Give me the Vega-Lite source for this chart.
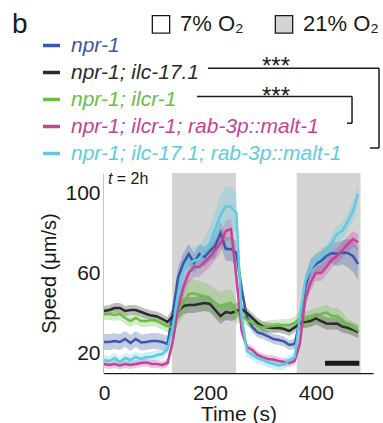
{
"$schema": "https://vega.github.io/schema/vega-lite/v6.json",
"width": 269, "height": 200,
"autosize": {"type": "none"},
"padding": {"left": 104, "top": 173, "right": 10, "bottom": 50},
"background": "white",
"config": {"view": {"stroke": null}, "font": "Liberation Sans", "text": {"font": "Liberation Sans", "color": "#1a1a1a"}},
"datasets": {
"o2": [
{"a": 0, "b": 128.4, "o": "7% O₂"},
{"a": 128.4, "b": 249.3, "o": "21% O₂"},
{"a": 249.3, "b": 364, "o": "7% O₂"},
{"a": 364, "b": 484.8, "o": "21% O₂"},
{"a": 484.8, "b": 508, "o": "7% O₂"}
],
"speed": [
{"s":"npr-1","t":0,"v":25.5,"e":4},{"s":"npr-1","t":10,"v":25.5,"e":4},{"s":"npr-1","t":20,"v":26,"e":4},{"s":"npr-1","t":30,"v":25.5,"e":4},{"s":"npr-1","t":40,"v":27,"e":4},{"s":"npr-1","t":50,"v":25,"e":4},{"s":"npr-1","t":60,"v":27,"e":4},{"s":"npr-1","t":70,"v":25.3,"e":4},{"s":"npr-1","t":80,"v":25.5,"e":4},{"s":"npr-1","t":90,"v":26,"e":4},{"s":"npr-1","t":100,"v":26,"e":4},{"s":"npr-1","t":110,"v":25.5,"e":4},{"s":"npr-1","t":120,"v":24.5,"e":4},
{"s":"npr-1","t":130,"v":40,"e":5},{"s":"npr-1","t":140,"v":58,"e":5},{"s":"npr-1","t":150,"v":65,"e":5},{"s":"npr-1","t":160,"v":69.5,"e":5},{"s":"npr-1","t":170,"v":65,"e":5},{"s":"npr-1","t":180,"v":69.5,"e":5},{"s":"npr-1","t":190,"v":68,"e":5},{"s":"npr-1","t":200,"v":71,"e":5},{"s":"npr-1","t":210,"v":73.5,"e":6},{"s":"npr-1","t":220,"v":80,"e":6},{"s":"npr-1","t":230,"v":72,"e":6},{"s":"npr-1","t":240,"v":72,"e":6},{"s":"npr-1","t":250,"v":70,"e":6},
{"s":"npr-1","t":260,"v":52,"e":4},{"s":"npr-1","t":270,"v":37.5,"e":3},{"s":"npr-1","t":280,"v":33,"e":2.5},{"s":"npr-1","t":290,"v":30.3,"e":2.5},{"s":"npr-1","t":300,"v":29.5,"e":2.5},{"s":"npr-1","t":310,"v":28.3,"e":2.5},{"s":"npr-1","t":320,"v":27,"e":2.5},{"s":"npr-1","t":330,"v":26.5,"e":2.5},{"s":"npr-1","t":340,"v":25.8,"e":2.5},{"s":"npr-1","t":350,"v":24,"e":2.5},{"s":"npr-1","t":360,"v":24.5,"e":2.5},
{"s":"npr-1","t":370,"v":36,"e":4},{"s":"npr-1","t":380,"v":53,"e":5},{"s":"npr-1","t":390,"v":62,"e":5},{"s":"npr-1","t":400,"v":64.5,"e":5},{"s":"npr-1","t":410,"v":66,"e":5},{"s":"npr-1","t":420,"v":68.5,"e":5},{"s":"npr-1","t":430,"v":70,"e":5},{"s":"npr-1","t":440,"v":69.5,"e":6},{"s":"npr-1","t":450,"v":70.2,"e":6},{"s":"npr-1","t":460,"v":70,"e":7},{"s":"npr-1","t":470,"v":68.5,"e":8},{"s":"npr-1","t":480,"v":64.5,"e":8},

{"s":"npr-1; ilc-17.1","t":0,"v":41,"e":2.5},{"s":"npr-1; ilc-17.1","t":10,"v":41.5,"e":2.5},{"s":"npr-1; ilc-17.1","t":20,"v":42.5,"e":2.5},{"s":"npr-1; ilc-17.1","t":30,"v":42.5,"e":2.5},{"s":"npr-1; ilc-17.1","t":40,"v":41,"e":2.5},{"s":"npr-1; ilc-17.1","t":50,"v":41.5,"e":2.5},{"s":"npr-1; ilc-17.1","t":60,"v":41.5,"e":2.5},{"s":"npr-1; ilc-17.1","t":70,"v":40.5,"e":2.5},{"s":"npr-1; ilc-17.1","t":80,"v":39.5,"e":2.5},{"s":"npr-1; ilc-17.1","t":90,"v":38.7,"e":2.5},{"s":"npr-1; ilc-17.1","t":100,"v":38.3,"e":2.5},{"s":"npr-1; ilc-17.1","t":110,"v":37,"e":2.5},{"s":"npr-1; ilc-17.1","t":120,"v":35.5,"e":2.5},
{"s":"npr-1; ilc-17.1","t":130,"v":38.5,"e":4},{"s":"npr-1; ilc-17.1","t":140,"v":41,"e":4},{"s":"npr-1; ilc-17.1","t":150,"v":43.5,"e":4},{"s":"npr-1; ilc-17.1","t":160,"v":44,"e":4},{"s":"npr-1; ilc-17.1","t":170,"v":44,"e":4},{"s":"npr-1; ilc-17.1","t":180,"v":44.5,"e":4},{"s":"npr-1; ilc-17.1","t":190,"v":45,"e":4},{"s":"npr-1; ilc-17.1","t":200,"v":44.5,"e":4},{"s":"npr-1; ilc-17.1","t":210,"v":41.5,"e":4},{"s":"npr-1; ilc-17.1","t":220,"v":38.5,"e":4},{"s":"npr-1; ilc-17.1","t":230,"v":40.5,"e":4},{"s":"npr-1; ilc-17.1","t":240,"v":40,"e":4},{"s":"npr-1; ilc-17.1","t":250,"v":41,"e":4},
{"s":"npr-1; ilc-17.1","t":260,"v":42,"e":2.5},{"s":"npr-1; ilc-17.1","t":270,"v":40,"e":2.5},{"s":"npr-1; ilc-17.1","t":280,"v":37.5,"e":2.5},{"s":"npr-1; ilc-17.1","t":290,"v":35,"e":2.5},{"s":"npr-1; ilc-17.1","t":300,"v":33.2,"e":2.5},{"s":"npr-1; ilc-17.1","t":310,"v":32.7,"e":2.5},{"s":"npr-1; ilc-17.1","t":320,"v":32.5,"e":2.5},{"s":"npr-1; ilc-17.1","t":330,"v":32.6,"e":2.5},{"s":"npr-1; ilc-17.1","t":340,"v":32,"e":2.5},{"s":"npr-1; ilc-17.1","t":350,"v":31,"e":2.5},{"s":"npr-1; ilc-17.1","t":360,"v":32.8,"e":2.5},
{"s":"npr-1; ilc-17.1","t":370,"v":34.8,"e":3},{"s":"npr-1; ilc-17.1","t":380,"v":35.6,"e":3},{"s":"npr-1; ilc-17.1","t":390,"v":36,"e":3},{"s":"npr-1; ilc-17.1","t":400,"v":37.3,"e":3},{"s":"npr-1; ilc-17.1","t":410,"v":36,"e":3},{"s":"npr-1; ilc-17.1","t":420,"v":34.8,"e":3},{"s":"npr-1; ilc-17.1","t":430,"v":34.6,"e":3},{"s":"npr-1; ilc-17.1","t":440,"v":34.7,"e":3},{"s":"npr-1; ilc-17.1","t":450,"v":33.2,"e":3},{"s":"npr-1; ilc-17.1","t":460,"v":32.6,"e":3},{"s":"npr-1; ilc-17.1","t":470,"v":31.7,"e":3},{"s":"npr-1; ilc-17.1","t":480,"v":30.4,"e":3},

{"s":"npr-1; ilcr-1","t":0,"v":39.5,"e":3},{"s":"npr-1; ilcr-1","t":10,"v":39.5,"e":3},{"s":"npr-1; ilcr-1","t":20,"v":39,"e":3},{"s":"npr-1; ilcr-1","t":30,"v":39.5,"e":3},{"s":"npr-1; ilcr-1","t":40,"v":37.5,"e":3},{"s":"npr-1; ilcr-1","t":50,"v":36,"e":3},{"s":"npr-1; ilcr-1","t":60,"v":37.5,"e":3},{"s":"npr-1; ilcr-1","t":70,"v":36,"e":3},{"s":"npr-1; ilcr-1","t":80,"v":36,"e":3},{"s":"npr-1; ilcr-1","t":90,"v":36.5,"e":3},{"s":"npr-1; ilcr-1","t":100,"v":36,"e":3},{"s":"npr-1; ilcr-1","t":110,"v":34.5,"e":3},{"s":"npr-1; ilcr-1","t":120,"v":33.3,"e":3},
{"s":"npr-1; ilcr-1","t":130,"v":33,"e":5},{"s":"npr-1; ilcr-1","t":140,"v":41,"e":7},{"s":"npr-1; ilcr-1","t":150,"v":45.5,"e":7},{"s":"npr-1; ilcr-1","t":160,"v":49.5,"e":7},{"s":"npr-1; ilcr-1","t":170,"v":49.8,"e":7},{"s":"npr-1; ilcr-1","t":180,"v":49,"e":7},{"s":"npr-1; ilcr-1","t":190,"v":48.3,"e":7},{"s":"npr-1; ilcr-1","t":200,"v":47,"e":7},{"s":"npr-1; ilcr-1","t":210,"v":45,"e":7},{"s":"npr-1; ilcr-1","t":220,"v":43.5,"e":7},{"s":"npr-1; ilcr-1","t":230,"v":44.5,"e":7},{"s":"npr-1; ilcr-1","t":240,"v":45,"e":7},{"s":"npr-1; ilcr-1","t":250,"v":40.5,"e":6},
{"s":"npr-1; ilcr-1","t":260,"v":38.5,"e":3},{"s":"npr-1; ilcr-1","t":270,"v":36.5,"e":3},{"s":"npr-1; ilcr-1","t":280,"v":35,"e":3},{"s":"npr-1; ilcr-1","t":290,"v":33.5,"e":3},{"s":"npr-1; ilcr-1","t":300,"v":32.8,"e":3},{"s":"npr-1; ilcr-1","t":310,"v":33.3,"e":3},{"s":"npr-1; ilcr-1","t":320,"v":33.5,"e":3},{"s":"npr-1; ilcr-1","t":330,"v":33.8,"e":3},{"s":"npr-1; ilcr-1","t":340,"v":34,"e":3},{"s":"npr-1; ilcr-1","t":350,"v":34,"e":3},{"s":"npr-1; ilcr-1","t":360,"v":35,"e":3},
{"s":"npr-1; ilcr-1","t":370,"v":37.5,"e":4},{"s":"npr-1; ilcr-1","t":380,"v":36.5,"e":4},{"s":"npr-1; ilcr-1","t":390,"v":37.5,"e":4},{"s":"npr-1; ilcr-1","t":400,"v":38.7,"e":4},{"s":"npr-1; ilcr-1","t":410,"v":39.5,"e":4},{"s":"npr-1; ilcr-1","t":420,"v":40.3,"e":4},{"s":"npr-1; ilcr-1","t":430,"v":38.5,"e":4},{"s":"npr-1; ilcr-1","t":440,"v":38.5,"e":4},{"s":"npr-1; ilcr-1","t":450,"v":36.5,"e":4},{"s":"npr-1; ilcr-1","t":460,"v":34,"e":3},{"s":"npr-1; ilcr-1","t":470,"v":32.8,"e":3},{"s":"npr-1; ilcr-1","t":480,"v":31.2,"e":3},

{"s":"npr-1; ilcr-1; rab-3p::malt-1","t":0,"v":14.5,"e":2},{"s":"npr-1; ilcr-1; rab-3p::malt-1","t":10,"v":14,"e":2},{"s":"npr-1; ilcr-1; rab-3p::malt-1","t":20,"v":14.5,"e":2},{"s":"npr-1; ilcr-1; rab-3p::malt-1","t":30,"v":13.8,"e":2},{"s":"npr-1; ilcr-1; rab-3p::malt-1","t":40,"v":14.5,"e":2},{"s":"npr-1; ilcr-1; rab-3p::malt-1","t":50,"v":14,"e":2},{"s":"npr-1; ilcr-1; rab-3p::malt-1","t":60,"v":14.5,"e":2},{"s":"npr-1; ilcr-1; rab-3p::malt-1","t":70,"v":15,"e":2},{"s":"npr-1; ilcr-1; rab-3p::malt-1","t":80,"v":15.3,"e":2},{"s":"npr-1; ilcr-1; rab-3p::malt-1","t":90,"v":14.5,"e":2},{"s":"npr-1; ilcr-1; rab-3p::malt-1","t":100,"v":14.5,"e":2},{"s":"npr-1; ilcr-1; rab-3p::malt-1","t":110,"v":14,"e":2},{"s":"npr-1; ilcr-1; rab-3p::malt-1","t":120,"v":15,"e":2},
{"s":"npr-1; ilcr-1; rab-3p::malt-1","t":130,"v":26,"e":4},{"s":"npr-1; ilcr-1; rab-3p::malt-1","t":140,"v":42.8,"e":5},{"s":"npr-1; ilcr-1; rab-3p::malt-1","t":150,"v":53,"e":5},{"s":"npr-1; ilcr-1; rab-3p::malt-1","t":160,"v":60,"e":5},{"s":"npr-1; ilcr-1; rab-3p::malt-1","t":170,"v":63,"e":5},{"s":"npr-1; ilcr-1; rab-3p::malt-1","t":180,"v":63,"e":5},{"s":"npr-1; ilcr-1; rab-3p::malt-1","t":190,"v":65.5,"e":5},{"s":"npr-1; ilcr-1; rab-3p::malt-1","t":200,"v":68,"e":5},{"s":"npr-1; ilcr-1; rab-3p::malt-1","t":210,"v":71.5,"e":5},{"s":"npr-1; ilcr-1; rab-3p::malt-1","t":220,"v":75,"e":5},{"s":"npr-1; ilcr-1; rab-3p::malt-1","t":230,"v":81,"e":5},{"s":"npr-1; ilcr-1; rab-3p::malt-1","t":240,"v":82,"e":5},{"s":"npr-1; ilcr-1; rab-3p::malt-1","t":250,"v":58,"e":5},
{"s":"npr-1; ilcr-1; rab-3p::malt-1","t":260,"v":31,"e":3},{"s":"npr-1; ilcr-1; rab-3p::malt-1","t":270,"v":23,"e":2},{"s":"npr-1; ilcr-1; rab-3p::malt-1","t":280,"v":21.5,"e":2},{"s":"npr-1; ilcr-1; rab-3p::malt-1","t":290,"v":19,"e":2},{"s":"npr-1; ilcr-1; rab-3p::malt-1","t":300,"v":17.8,"e":2},{"s":"npr-1; ilcr-1; rab-3p::malt-1","t":310,"v":17,"e":2},{"s":"npr-1; ilcr-1; rab-3p::malt-1","t":320,"v":16.7,"e":2},{"s":"npr-1; ilcr-1; rab-3p::malt-1","t":330,"v":16,"e":2},{"s":"npr-1; ilcr-1; rab-3p::malt-1","t":340,"v":15.5,"e":2},{"s":"npr-1; ilcr-1; rab-3p::malt-1","t":350,"v":15,"e":2},{"s":"npr-1; ilcr-1; rab-3p::malt-1","t":360,"v":16,"e":2},
{"s":"npr-1; ilcr-1; rab-3p::malt-1","t":370,"v":25,"e":3},{"s":"npr-1; ilcr-1; rab-3p::malt-1","t":380,"v":47,"e":4},{"s":"npr-1; ilcr-1; rab-3p::malt-1","t":390,"v":55,"e":4},{"s":"npr-1; ilcr-1; rab-3p::malt-1","t":400,"v":60,"e":4},{"s":"npr-1; ilcr-1; rab-3p::malt-1","t":410,"v":60,"e":4},{"s":"npr-1; ilcr-1; rab-3p::malt-1","t":420,"v":63,"e":4},{"s":"npr-1; ilcr-1; rab-3p::malt-1","t":430,"v":66.5,"e":4},{"s":"npr-1; ilcr-1; rab-3p::malt-1","t":440,"v":68.5,"e":4},{"s":"npr-1; ilcr-1; rab-3p::malt-1","t":450,"v":71.5,"e":4},{"s":"npr-1; ilcr-1; rab-3p::malt-1","t":460,"v":74.3,"e":4},{"s":"npr-1; ilcr-1; rab-3p::malt-1","t":470,"v":77,"e":4},{"s":"npr-1; ilcr-1; rab-3p::malt-1","t":480,"v":75.3,"e":4},

{"s":"npr-1; ilc-17.1; rab-3p::malt-1","t":0,"v":16.5,"e":2.5},{"s":"npr-1; ilc-17.1; rab-3p::malt-1","t":10,"v":16,"e":2.5},{"s":"npr-1; ilc-17.1; rab-3p::malt-1","t":20,"v":17.5,"e":2.5},{"s":"npr-1; ilc-17.1; rab-3p::malt-1","t":30,"v":15.5,"e":2.5},{"s":"npr-1; ilc-17.1; rab-3p::malt-1","t":40,"v":17.5,"e":2.5},{"s":"npr-1; ilc-17.1; rab-3p::malt-1","t":50,"v":16.5,"e":2.5},{"s":"npr-1; ilc-17.1; rab-3p::malt-1","t":60,"v":18,"e":2.5},{"s":"npr-1; ilc-17.1; rab-3p::malt-1","t":70,"v":17,"e":2.5},{"s":"npr-1; ilc-17.1; rab-3p::malt-1","t":80,"v":18,"e":2.5},{"s":"npr-1; ilc-17.1; rab-3p::malt-1","t":90,"v":18,"e":2.5},{"s":"npr-1; ilc-17.1; rab-3p::malt-1","t":100,"v":19,"e":2.5},{"s":"npr-1; ilc-17.1; rab-3p::malt-1","t":110,"v":19.5,"e":2.5},{"s":"npr-1; ilc-17.1; rab-3p::malt-1","t":120,"v":22,"e":2.5},
{"s":"npr-1; ilc-17.1; rab-3p::malt-1","t":130,"v":33,"e":4},{"s":"npr-1; ilc-17.1; rab-3p::malt-1","t":140,"v":50,"e":6},{"s":"npr-1; ilc-17.1; rab-3p::malt-1","t":150,"v":61,"e":7},{"s":"npr-1; ilc-17.1; rab-3p::malt-1","t":160,"v":65,"e":7},{"s":"npr-1; ilc-17.1; rab-3p::malt-1","t":170,"v":66,"e":7},{"s":"npr-1; ilc-17.1; rab-3p::malt-1","t":180,"v":67,"e":7},{"s":"npr-1; ilc-17.1; rab-3p::malt-1","t":190,"v":71,"e":7},{"s":"npr-1; ilc-17.1; rab-3p::malt-1","t":200,"v":75,"e":8},{"s":"npr-1; ilc-17.1; rab-3p::malt-1","t":210,"v":82,"e":9},{"s":"npr-1; ilc-17.1; rab-3p::malt-1","t":220,"v":89,"e":10},{"s":"npr-1; ilc-17.1; rab-3p::malt-1","t":230,"v":93.5,"e":10},{"s":"npr-1; ilc-17.1; rab-3p::malt-1","t":240,"v":93,"e":10},{"s":"npr-1; ilc-17.1; rab-3p::malt-1","t":250,"v":90,"e":10},
{"s":"npr-1; ilc-17.1; rab-3p::malt-1","t":260,"v":38,"e":4},{"s":"npr-1; ilc-17.1; rab-3p::malt-1","t":270,"v":21,"e":3},{"s":"npr-1; ilc-17.1; rab-3p::malt-1","t":280,"v":19,"e":2.5},{"s":"npr-1; ilc-17.1; rab-3p::malt-1","t":290,"v":17.3,"e":2.5},{"s":"npr-1; ilc-17.1; rab-3p::malt-1","t":300,"v":16.5,"e":2.5},{"s":"npr-1; ilc-17.1; rab-3p::malt-1","t":310,"v":15.2,"e":2.5},{"s":"npr-1; ilc-17.1; rab-3p::malt-1","t":320,"v":14.5,"e":2.5},{"s":"npr-1; ilc-17.1; rab-3p::malt-1","t":330,"v":13.8,"e":2.5},{"s":"npr-1; ilc-17.1; rab-3p::malt-1","t":340,"v":14.2,"e":2.5},{"s":"npr-1; ilc-17.1; rab-3p::malt-1","t":350,"v":16.5,"e":2.5},{"s":"npr-1; ilc-17.1; rab-3p::malt-1","t":360,"v":17.8,"e":2.5},
{"s":"npr-1; ilc-17.1; rab-3p::malt-1","t":370,"v":38,"e":4},{"s":"npr-1; ilc-17.1; rab-3p::malt-1","t":380,"v":56,"e":4},{"s":"npr-1; ilc-17.1; rab-3p::malt-1","t":390,"v":62,"e":4},{"s":"npr-1; ilc-17.1; rab-3p::malt-1","t":400,"v":66,"e":4},{"s":"npr-1; ilc-17.1; rab-3p::malt-1","t":410,"v":68.5,"e":4},{"s":"npr-1; ilc-17.1; rab-3p::malt-1","t":420,"v":70,"e":4},{"s":"npr-1; ilc-17.1; rab-3p::malt-1","t":430,"v":75,"e":4},{"s":"npr-1; ilc-17.1; rab-3p::malt-1","t":440,"v":79.5,"e":4},{"s":"npr-1; ilc-17.1; rab-3p::malt-1","t":450,"v":81,"e":4},{"s":"npr-1; ilc-17.1; rab-3p::malt-1","t":460,"v":85.5,"e":4},{"s":"npr-1; ilc-17.1; rab-3p::malt-1","t":470,"v":91,"e":5},{"s":"npr-1; ilc-17.1; rab-3p::malt-1","t":480,"v":99.5,"e":5}
]
},
"layer": [
{"data": {"name": "o2"}, "mark": {"type": "rect"},
 "encoding": {
  "x": {"field": "a", "type": "quantitative", "title": "Time (s)", "scale": {"domain": [0, 508], "nice": false, "zero": false},
   "axis": {"title": "Time (s)", "values": [0,50,100,150,200,250,300,350,400,450,500], "labelExpr": "datum.value % 200 === 0 ? datum.label : ''", "grid": false, "tickSize": -5, "tickWidth": 1.2, "tickColor": "#1a1a1a", "domainColor": "#1a1a1a", "domainWidth": 1.5, "labelFontSize": 21, "labelColor": "#1a1a1a", "labelPadding": 14, "labelFlush": false, "labelOverlap": false, "titleFontSize": 21, "titleFontWeight": "normal", "titleColor": "#1a1a1a", "titlePadding": 0}},
  "x2": {"field": "b"},
  "y": {"datum": 10, "type": "quantitative", "title": "Speed (μm/s)", "scale": {"domain": [10, 110], "nice": false, "zero": false},
   "axis": {"title": "Speed (μm/s)", "values": [20,30,40,50,60,70,80,90,100], "labelExpr": "datum.value % 40 === 20 ? datum.label : ''", "grid": false, "tickSize": -5, "tickWidth": 1.2, "tickColor": "#1a1a1a", "domainColor": "#1a1a1a", "domainWidth": 1.5, "labelFontSize": 21, "labelColor": "#1a1a1a", "labelPadding": 9, "labelOverlap": false, "labelFlush": false, "titleFontSize": 20, "titleFontWeight": "normal", "titleColor": "#1a1a1a", "titlePadding": 5}},
  "y2": {"datum": 110},
  "fill": {"field": "o", "type": "nominal", "scale": {"domain": ["7% O₂", "21% O₂"], "range": ["#ffffff", "#d4d4d4"]},
   "legend": {"orient": "none", "legendX": 46, "legendY": -160, "direction": "horizontal", "title": null, "symbolType": "square", "symbolSize": 300, "symbolStrokeColor": "#1a1a1a", "symbolStrokeWidth": 1.3, "labelFont": "Liberation Sans, DejaVu Sans", "labelFontSize": 22, "labelColor": "#1a1a1a", "labelOffset": 8, "labelLimit": 200, "columnPadding": 28, "padding": 0}}
 }},
{"data": {"name": "speed"}, "mark": {"type": "errorband", "opacity": 0.3},
 "encoding": {
  "x": {"field": "t", "type": "quantitative", "title": "Time (s)"},
  "y": {"field": "v", "type": "quantitative", "title": "Speed (μm/s)"},
  "yError": {"field": "e"},
  "color": {"field": "s", "type": "nominal", "scale": {"domain": ["npr-1", "npr-1; ilc-17.1", "npr-1; ilcr-1", "npr-1; ilcr-1; rab-3p::malt-1", "npr-1; ilc-17.1; rab-3p::malt-1"], "range": ["#3b57a7", "#2b2b2b", "#6abd45", "#c1449a", "#5fcbe0"]}}
 }},
{"data": {"name": "speed"}, "mark": {"type": "line", "strokeWidth": 2.5},
 "encoding": {
  "x": {"field": "t", "type": "quantitative", "title": "Time (s)"},
  "y": {"field": "v", "type": "quantitative", "title": "Speed (μm/s)"},
  "color": {"field": "s", "type": "nominal", "scale": {"domain": ["npr-1", "npr-1; ilc-17.1", "npr-1; ilcr-1", "npr-1; ilcr-1; rab-3p::malt-1", "npr-1; ilc-17.1; rab-3p::malt-1"], "range": ["#3b57a7", "#2b2b2b", "#6abd45", "#c1449a", "#5fcbe0"]},
   "legend": {"orient": "none", "legendX": -63, "legendY": -138, "title": null, "symbolType": "stroke", "symbolSize": 289, "symbolStrokeWidth": 3.5, "labelFontSize": 21, "labelFontStyle": "italic", "labelLimit": 400, "labelOffset": 9, "rowPadding": 5, "padding": 0,
    "encode": {"labels": {"update": {"fill": {"scale": "color", "field": "value"}}}, "symbols": {"update": {"opacity": {"value": 1}, "strokeWidth": {"value": 3.5}, "stroke": {"scale": "color", "field": "value"}}}}}}
 }},
{"data": {"values": [{}]}, "mark": {"type": "rule", "strokeWidth": 5, "color": "#1a1a1a", "clip": false},
 "encoding": {"x": {"datum": 417.4, "type": "quantitative"}, "x2": {"datum": 482.2}, "y": {"datum": 14.85, "type": "quantitative"}}},
{"data": {"values": [{}]}, "mark": {"type": "rule", "strokeWidth": 1.5, "color": "#1a1a1a", "clip": false},
 "encoding": {"x": {"datum": 196.4, "type": "quantitative"}, "x2": {"datum": 519.4}, "y": {"datum": 162.4, "type": "quantitative"}}},
{"data": {"values": [{}]}, "mark": {"type": "rule", "strokeWidth": 1.5, "color": "#1a1a1a", "clip": false},
 "encoding": {"x": {"datum": 519.4, "type": "quantitative"}, "y": {"datum": 162.4, "type": "quantitative"}, "y2": {"datum": 122.5}}},
{"data": {"values": [{}]}, "mark": {"type": "rule", "strokeWidth": 1.5, "color": "#1a1a1a", "clip": false},
 "encoding": {"x": {"datum": 502.4, "type": "quantitative"}, "x2": {"datum": 519.4}, "y": {"datum": 122.5, "type": "quantitative"}}},
{"data": {"values": [{}]}, "mark": {"type": "rule", "strokeWidth": 1.5, "color": "#1a1a1a", "clip": false},
 "encoding": {"x": {"datum": 175.6, "type": "quantitative"}, "x2": {"datum": 468.4}, "y": {"datum": 148.2, "type": "quantitative"}}},
{"data": {"values": [{}]}, "mark": {"type": "rule", "strokeWidth": 1.5, "color": "#1a1a1a", "clip": false},
 "encoding": {"x": {"datum": 468.4, "type": "quantitative"}, "y": {"datum": 148.2, "type": "quantitative"}, "y2": {"datum": 134.9}}},
{"data": {"values": [{}]}, "mark": {"type": "rule", "strokeWidth": 1.5, "color": "#1a1a1a", "clip": false},
 "encoding": {"x": {"datum": 458.9, "type": "quantitative"}, "x2": {"datum": 468.4}, "y": {"datum": 134.9, "type": "quantitative"}}},
{"data": {"values": [{}]}, "mark": {"type": "text", "text": "***", "fontSize": 24, "align": "center", "baseline": "alphabetic", "clip": false},
 "encoding": {"x": {"datum": 324.8, "type": "quantitative"}, "y": {"datum": 159.5, "type": "quantitative"}}},
{"data": {"values": [{}]}, "mark": {"type": "text", "text": "***", "fontSize": 24, "align": "center", "baseline": "alphabetic", "clip": false},
 "encoding": {"x": {"datum": 324.8, "type": "quantitative"}, "y": {"datum": 144.5, "type": "quantitative"}}},
{"data": {"values": [{}]}, "mark": {"type": "text", "text": "b", "fontSize": 28, "align": "left", "baseline": "alphabetic", "clip": false},
 "encoding": {"x": {"datum": -173.7, "type": "quantitative"}, "y": {"datum": 180, "type": "quantitative"}}},
{"data": {"values": [{}]}, "mark": {"type": "text", "text": "t", "fontSize": 16, "fontStyle": "italic", "align": "left", "baseline": "alphabetic", "clip": false},
 "encoding": {"x": {"datum": 7.6, "type": "quantitative"}, "y": {"datum": 104.5, "type": "quantitative"}}},
{"data": {"values": [{}]}, "mark": {"type": "text", "text": "= 2h", "fontSize": 16, "align": "left", "baseline": "alphabetic", "clip": false},
 "encoding": {"x": {"datum": 24, "type": "quantitative"}, "y": {"datum": 104.5, "type": "quantitative"}}}
]
}
